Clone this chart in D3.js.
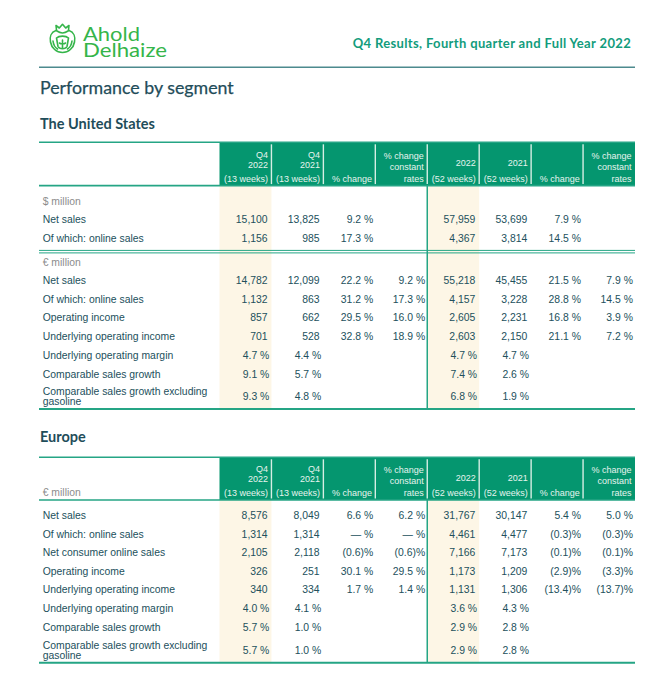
<!DOCTYPE html>
<html>
<head>
<meta charset="utf-8">
<script src="https://cdn.jsdelivr.net/npm/d3@7"></script>
<style>
  html, body { margin: 0; padding: 0; background: #fff; }
  svg { display: block; }
</style>
</head>
<body>
<svg id="chart" width="654" height="680"></svg>
<script>
// ---------------- DATA ----------------
const reportTitle = "Q4 Results, Fourth quarter and Full Year 2022";
const pageTitle = "Performance by segment";
const brandLines = ["Ahold", "Delhaize"];
const sectionTitles = ["The United States", "Europe"];

const columnHeaders = [
  ["Q4", "2022", "(13 weeks)"],
  ["Q4", "2021", "(13 weeks)"],
  ["% change"],
  ["% change", "constant", "rates"],
  ["2022", "(52 weeks)"],
  ["2021", "(52 weeks)"],
  ["% change"],
  ["% change", "constant", "rates"]
];
const highlightColumns = [0, 4];

const usUnitUsd = "$ million";
const usUsdLabels = ["Net sales", "Of which: online sales"];
const usUsdValues = [
  ["15,100", "13,825", "9.2 %", "", "57,959", "53,699", "7.9 %", ""],
  ["1,156", "985", "17.3 %", "", "4,367", "3,814", "14.5 %", ""]
];

const usUnitEur = "€ million";
const usEurLabels = [
  "Net sales", "Of which: online sales", "Operating income",
  "Underlying operating income", "Underlying operating margin",
  "Comparable sales growth", "Comparable sales growth excluding|gasoline"
];
const usEurValues = [
  ["14,782", "12,099", "22.2 %", "9.2 %", "55,218", "45,455", "21.5 %", "7.9 %"],
  ["1,132", "863", "31.2 %", "17.3 %", "4,157", "3,228", "28.8 %", "14.5 %"],
  ["857", "662", "29.5 %", "16.0 %", "2,605", "2,231", "16.8 %", "3.9 %"],
  ["701", "528", "32.8 %", "18.9 %", "2,603", "2,150", "21.1 %", "7.2 %"],
  ["4.7 %", "4.4 %", "", "", "4.7 %", "4.7 %", "", ""],
  ["9.1 %", "5.7 %", "", "", "7.4 %", "2.6 %", "", ""],
  ["9.3 %", "4.8 %", "", "", "6.8 %", "1.9 %", "", ""]
];

const euUnit = "€ million";
const euLabels = [
  "Net sales", "Of which: online sales", "Net consumer online sales",
  "Operating income", "Underlying operating income", "Underlying operating margin",
  "Comparable sales growth", "Comparable sales growth excluding|gasoline"
];
const euValues = [
  ["8,576", "8,049", "6.6 %", "6.2 %", "31,767", "30,147", "5.4 %", "5.0 %"],
  ["1,314", "1,314", "— %", "— %", "4,461", "4,477", "(0.3)%", "(0.3)%"],
  ["2,105", "2,118", "(0.6)%", "(0.6)%", "7,166", "7,173", "(0.1)%", "(0.1)%"],
  ["326", "251", "30.1 %", "29.5 %", "1,173", "1,209", "(2.9)%", "(3.3)%"],
  ["340", "334", "1.7 %", "1.4 %", "1,131", "1,306", "(13.4)%", "(13.7)%"],
  ["4.0 %", "4.1 %", "", "", "3.6 %", "4.3 %", "", ""],
  ["5.7 %", "1.0 %", "", "", "2.9 %", "2.8 %", "", ""],
  ["5.7 %", "1.0 %", "", "", "2.9 %", "2.8 %", "", ""]
];

// ---------------- STYLE ----------------
const C = {
  brand: "#35b54a",
  teal: "#129c7c",
  rule: "#4d8a8e",
  heading: "#1f4d5a",
  text: "#22505c",
  grey: "#8c8c8c",
  headFill: "#05966f",
  headText: "#e6f4ee",
  headSep: "#d6eee4",
  line: "#25a585",
  cream: "#fdf6e6"
};
const BODY_FONT = "'Liberation Sans', Arial, sans-serif";
const HEAD_FONT = "Lato, 'Open Sans', sans-serif";

const svg = d3.select("#chart");
const tableLeft = 39, tableRight = 635, labelX = 42.7;

const x = d3.scaleBand().domain(d3.range(columnHeaders.length)).range([219.5, tableRight]).padding(0);
const colRight = i => x(i) + x.bandwidth();

// ---------------- PAGE HEADER ----------------
const logo = svg.append("g").attr("fill", "none").attr("stroke", C.brand)
  .attr("stroke-width", 1.6).attr("stroke-linejoin", "round").attr("stroke-linecap", "round");
logo.append("path").attr("d", "M56.5,30 L56,25.5 L59.3,28 L62.5,24.3 L65.7,28 L69,25.5 L68.5,30");
logo.append("path").attr("d", "M56,30.5 C51,32 49.5,37 50.5,42 C51.5,48 56.5,52.5 62.5,52.5 C68.5,52.5 73.5,48 74.5,42 C75.5,37 74,32 69,30.5 C66.5,32 64.5,33 62.5,33 C60.5,33 58.5,32 56,30.5 Z");
logo.append("path").attr("d", "M56.5,38 C59,35.5 66,35.5 68.5,38 L67,46.5 C65.5,49.5 59.5,49.5 58,46.5 Z");
logo.append("path").attr("d", "M62.5,40 L62.5,48 M59.5,43 C61,44 62,44 62.5,43 C63,44 64,44 65.5,43");
logo.append("path").attr("d", "M53,41 C53.5,45 55,47.5 57.5,49 M72,41 C71.5,45 70,47.5 67.5,49");

const brandWidths = [57, 84];
svg.append("g").selectAll("text.brand").data(brandLines).join("text")
  .attr("class", "brand")
  .attr("x", 83).attr("y", (d, i) => 41 + i * 16.3)
  .attr("font-family", HEAD_FONT).attr("font-size", 18.5).attr("fill", C.brand)
  .attr("textLength", (d, i) => brandWidths[i]).attr("lengthAdjust", "spacingAndGlyphs")
  .text(d => d);

svg.append("text").attr("x", 630.7).attr("y", 47.5).attr("text-anchor", "end")
  .attr("font-family", HEAD_FONT).attr("font-weight", 700).attr("font-size", 13)
  .attr("textLength", 278).attr("lengthAdjust", "spacing")
  .attr("fill", C.teal).text(reportTitle);

svg.append("line").attr("x1", tableLeft).attr("x2", tableRight).attr("y1", 67.3).attr("y2", 67.3)
  .attr("stroke", C.rule).attr("stroke-width", 1.5);

svg.append("text").attr("x", 40).attr("y", 93.5)
  .attr("font-family", HEAD_FONT).attr("font-size", 17.8).attr("fill", C.heading)
  .attr("stroke", C.heading).attr("stroke-width", 0.25).text(pageTitle);

// ---------------- TABLE HELPERS ----------------
function drawHeader(top, bottom, unitLabel) {
  const g = svg.append("g");
  g.append("rect").attr("x", x(0)).attr("y", top).attr("width", tableRight - x(0)).attr("height", bottom - top)
    .attr("fill", C.headFill);
  g.selectAll("line.sep").data(d3.range(1, columnHeaders.length)).join("line")
    .attr("x1", d => x(d)).attr("x2", d => x(d)).attr("y1", top + 2).attr("y2", bottom - 1.5)
    .attr("stroke", C.headSep).attr("stroke-width", 1.4);
  g.append("line").attr("x1", tableLeft).attr("x2", tableRight).attr("y1", top).attr("y2", top)
    .attr("stroke", C.line).attr("stroke-width", 1.6);
  g.append("line").attr("x1", tableLeft).attr("x2", tableRight).attr("y1", bottom).attr("y2", bottom)
    .attr("stroke", C.line).attr("stroke-width", 1.6);
  columnHeaders.forEach((lines, i) => {
    let offs;
    if (lines.length === 3 && lines[0] === "Q4") offs = [-31, -21.2, -7.2];
    else if (lines.length === 3) offs = [-30.3, -18.8, -7.3];
    else if (lines.length === 2) offs = [-22.4, -7.3];
    else offs = [-7.3];
    g.selectAll(null).data(lines).join("text")
      .attr("x", colRight(i) - 3.4).attr("y", (d, k) => bottom + offs[k] + 3.2)
      .attr("text-anchor", "end").attr("font-family", BODY_FONT).attr("font-size", 9)
      .attr("fill", C.headText).text(d => d);
  });
  if (unitLabel) {
    g.append("text").attr("x", labelX).attr("y", bottom - 7.5 + 3.7)
      .attr("font-family", BODY_FONT).attr("font-size", 10.4).attr("fill", C.grey).text(unitLabel);
  }
}

function drawBodyBackground(top, bottom) {
  svg.selectAll(null).data(highlightColumns).join("rect")
    .attr("x", d => x(d)).attr("width", x.bandwidth())
    .attr("y", top).attr("height", bottom - top).attr("fill", C.cream);
}

function isPct(v) { return /%$/.test(v); }

function drawRows(labels, values, centers) {
  const g = svg.append("g").attr("font-family", BODY_FONT).attr("font-size", 10.4).attr("fill", C.text);
  labels.forEach((lab, r) => {
    const parts = lab.split("|");
    const cy = centers[r];
    if (parts.length === 1) {
      g.append("text").attr("x", labelX).attr("y", cy + 3.8).text(lab);
    } else {
      g.append("text").selectAll("tspan").data(parts).join("tspan")
        .attr("x", labelX).attr("y", (d, k) => cy + (k === 0 ? -4.8 : 5) + 3.8).text(d => d);
    }
    g.selectAll(null).data(values[r].map((v, i) => ({ v, i })).filter(d => d.v !== "")).join("text")
      .attr("x", d => colRight(d.i) - (isPct(d.v) ? 2.1 : 3.8))
      .attr("y", cy + 3.8).attr("text-anchor", "end").text(d => d.v);
  });
}

function rowCenters(n, start, step, lastStep, multiLast) {
  const ys = d3.scaleLinear().domain([0, 1]).range([start, start + step]);
  return d3.range(n).map(i => (multiLast && i === n - 1) ? ys(i - 1) + lastStep : ys(i));
}

// ---------------- UNITED STATES ----------------
svg.append("text").attr("x", 40).attr("y", 128.5)
  .attr("font-family", HEAD_FONT).attr("font-weight", 700).attr("font-size", 14.5)
  .attr("fill", C.heading).text(sectionTitles[0]);

const usTop = 142.3, usHeadBottom = 185.6, usBottom = 409;
drawBodyBackground(usHeadBottom, usBottom);
drawHeader(usTop, usHeadBottom, null);

const unitG = svg.append("g").attr("font-family", BODY_FONT).attr("font-size", 10.4).attr("fill", C.grey);
unitG.append("text").attr("x", labelX).attr("y", 200.7 + 3.8).text(usUnitUsd);
drawRows(usUsdLabels, usUsdValues, rowCenters(usUsdLabels.length, 219.2, 18.8, 18.8, false));

// double rule
[250.4, 252.9].forEach(yv => svg.append("line").attr("x1", tableLeft).attr("x2", tableRight)
  .attr("y1", yv).attr("y2", yv).attr("stroke", C.line).attr("stroke-width", 1));

unitG.append("text").attr("x", labelX).attr("y", 261.7 + 3.8).text(usUnitEur);
drawRows(usEurLabels, usEurValues, rowCenters(usEurLabels.length, 280.2, 18.7, 22.2, true));

svg.append("line").attr("x1", x(4)).attr("x2", x(4)).attr("y1", usHeadBottom).attr("y2", usBottom)
  .attr("stroke", C.line).attr("stroke-width", 1.5);
svg.append("line").attr("x1", tableLeft).attr("x2", tableRight).attr("y1", usBottom).attr("y2", usBottom)
  .attr("stroke", C.line).attr("stroke-width", 2);

// ---------------- EUROPE ----------------
svg.append("text").attr("x", 40).attr("y", 442.2)
  .attr("font-family", HEAD_FONT).attr("font-weight", 700).attr("font-size", 14.5)
  .attr("fill", C.heading).text(sectionTitles[1]);

const euTop = 457.3, euHeadBottom = 500, euBottom = 662.7;
drawBodyBackground(euHeadBottom, euBottom);
drawHeader(euTop, euHeadBottom, euUnit);
drawRows(euLabels, euValues, rowCenters(euLabels.length, 515.2, 18.6, 23.3, true));

svg.append("line").attr("x1", x(4)).attr("x2", x(4)).attr("y1", euHeadBottom).attr("y2", euBottom)
  .attr("stroke", C.line).attr("stroke-width", 1.5);
svg.append("line").attr("x1", tableLeft).attr("x2", tableRight).attr("y1", euBottom).attr("y2", euBottom)
  .attr("stroke", C.line).attr("stroke-width", 2);
</script>
</body>
</html>
